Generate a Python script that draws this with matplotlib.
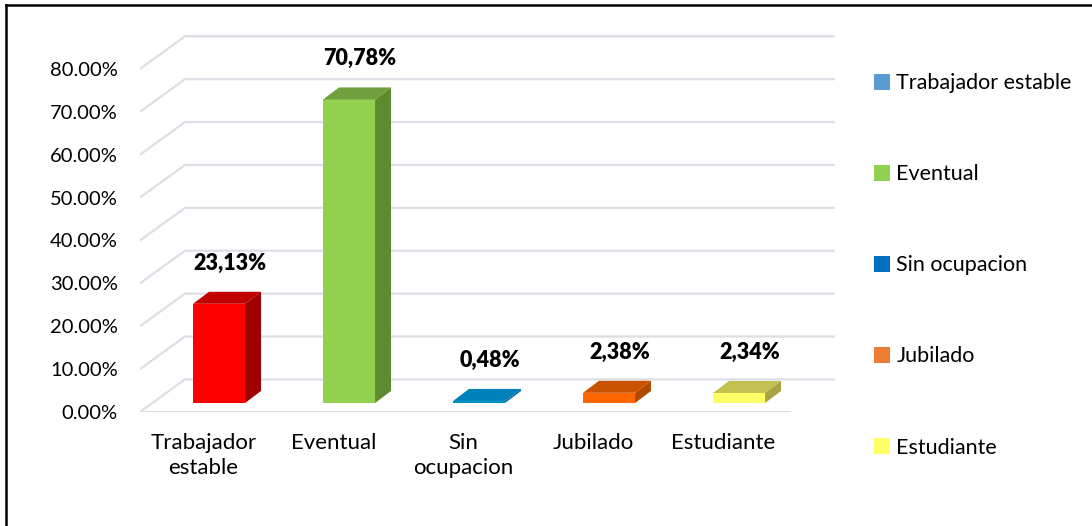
import numpy as np
import matplotlib
matplotlib.use("Agg")
import matplotlib.pyplot as plt
from matplotlib.patches import Polygon, Patch
from matplotlib.lines import Line2D

plt.rcParams['font.family'] = ['Lato', 'DejaVu Sans']

# Datos
categorias = ["Trabajador\nestable", "Eventual", "Sin\nocupacion", "Jubilado", "Estudiante"]
leyenda = ["Trabajador estable", "Eventual", "Sin ocupacion", "Jubilado", "Estudiante"]
valores = [23.13, 70.78, 0.48, 2.38, 2.34]
etiquetas = ["23,13%", "70,78%", "0,48%", "2,38%", "2,34%"]

# colores: frente, lado, techo
frente = ["#FF0000", "#92D050", "#0090C8", "#FF6600", "#FFFF66"]
lado = ["#A00000", "#5E8A30", "#006A96", "#B04A00", "#A8A444"]
techo = ["#C00000", "#70A03C", "#0080B8", "#C85200", "#C4C050"]
col_leyenda = ["#5B9BD5", "#92D050", "#0070C0", "#ED7D31", "#FFFF66"]

yticks = np.arange(0, 90, 10)

fig = plt.figure(figsize=(10.92, 5.26), dpi=100)
ax = fig.add_axes([140 / 1092, 114 / 526, 695 / 1092, 392 / 526])

n = len(valores)
xlo, xhi = -0.608, n - 1 + 0.738
ymax = 91.4
ax.set_xlim(xlo, xhi)
ax.set_ylim(0, ymax)

# profundidad de la pared y de las barras (en unidades de datos)
Dx, Dy = 0.346, 7.6
dx, dy = 0.123, 2.8
base = 2.1
ancho = 0.4
grid_c = "#DCDFE5"

# cuadricula con perspectiva
for v in yticks:
    ax.plot([xlo, xlo + Dx, xhi], [v, v + Dy, v + Dy], color=grid_c, lw=1.6, zorder=1,
            solid_capstyle="butt")
ax.plot([xlo, xhi - Dx], [0, 0], color=grid_c, lw=1.6, zorder=1)

# barras 3D
for i, v in enumerate(valores):
    ax.bar(i, v, bottom=base, width=ancho, color=frente[i], zorder=3)
    x0, x1 = i - ancho / 2, i + ancho / 2
    top = base + v
    ax.add_patch(Polygon([(x1, base), (x1 + dx, base + dy), (x1 + dx, top + dy), (x1, top)],
                         closed=True, color=lado[i], zorder=3, lw=0))
    ax.add_patch(Polygon([(x0, top), (x1, top), (x1 + dx, top + dy), (x0 + dx, top + dy)],
                         closed=True, color=techo[i], zorder=3, lw=0))
    ax.annotate(etiquetas[i], (i + 0.08, top + dy), xytext=(0, 13), textcoords="offset points",
                ha="center", va="bottom", fontsize=15.5, fontweight="heavy", zorder=5)

ax.set_yticks(yticks)
ax.set_yticklabels([f"{v:.2f}%" for v in yticks], fontsize=14.5)
ax.set_xticks(np.arange(n) - 0.12)
ax.set_xticklabels(categorias, fontsize=16, linespacing=1.3)
ax.tick_params(length=0)
ax.tick_params(axis="y", pad=16)
ax.tick_params(axis="x", pad=15)
for s in ax.spines.values():
    s.set_visible(False)

handles = [Patch(facecolor=c, edgecolor="none") for c in col_leyenda]
fig.legend(handles, leyenda, loc="upper left", bbox_to_anchor=(855 / 1092, 1 - 54 / 526),
           frameon=False, fontsize=15.5, handlelength=0.72, handleheight=0.72,
           handletextpad=0.3, labelspacing=3.3)

# marco
fig.add_artist(Line2D([6 / 1092, 6 / 1092], [0, 1 - 5 / 526], color="black", lw=1.8))
fig.add_artist(Line2D([6 / 1092, 1], [1 - 5 / 526, 1 - 5 / 526], color="black", lw=1.8))

plt.savefig("out.png", dpi=100)
